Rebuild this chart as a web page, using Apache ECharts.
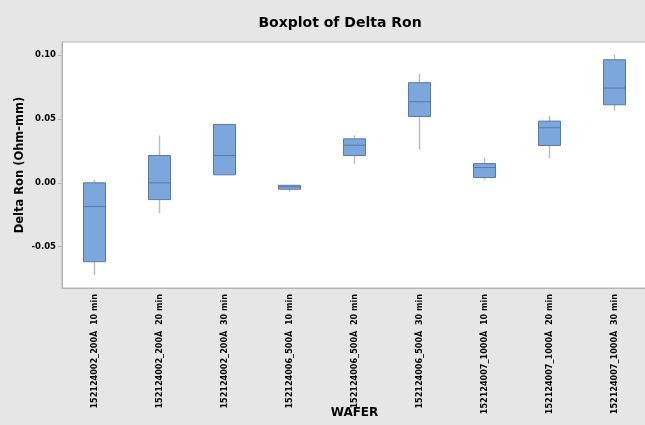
<!DOCTYPE html>
<html>
<head>
<meta charset="utf-8">
<script src="https://cdn.jsdelivr.net/npm/echarts@6/dist/echarts.min.js"></script>
<style>
  html, body { margin: 0; padding: 0; background: #e6e6e6; }
  #chart { width: 645px; height: 425px; }
</style>
</head>
<body>
<div id="chart"></div>
<script>
// wafer groups
var categories = [
    '152124002_200Å  10 min', '152124002_200Å  20 min', '152124002_200Å  30 min',
    '152124006_500Å  10 min', '152124006_500Å  20 min', '152124006_500Å  30 min',
    '152124007_1000Å  10 min', '152124007_1000Å  20 min', '152124007_1000Å  30 min'
];
// box statistics
var whiskerLow = [-0.0722, -0.0238, 0.0063, -0.0068, 0.0149, 0.0261, 0.0024, 0.0193, 0.0565];
var q1 = [-0.0618, -0.0131, 0.0063, -0.0050, 0.0214, 0.0520, 0.0042, 0.0293, 0.0612];
var median = [-0.0186, 0.0000, 0.0214, -0.0030, 0.0295, 0.0636, 0.0120, 0.0432, 0.0743];
var q3 = [0.0000, 0.0214, 0.0458, -0.0019, 0.0345, 0.0785, 0.0151, 0.0484, 0.0965];
var whiskerHigh = [0.0024, 0.0371, 0.0458, -0.0019, 0.0371, 0.0856, 0.0196, 0.0526, 0.1005];

var boxData = categories.map(function (c, i) {
    return [i, whiskerLow[i], q1[i], median[i], q3[i], whiskerHigh[i]];
});

var fontFam = 'DejaVu Sans';
var narrowFam = 'DejaVu Sans Condensed';

var chart = echarts.init(document.getElementById('chart'));
var option = {
    backgroundColor: '#e6e6e6',
    animation: false,
    title: {
        text: 'Boxplot of Delta Ron',
        left: 335,
        top: 11,
        textAlign: 'center',
        textStyle: {
            color: '#000',
            fontFamily: fontFam,
            fontWeight: 'bold',
            fontSize: 14
        }
    },
    grid: {
        show: true,
        left: 62,
        top: 42,
        width: 585,
        height: 246,
        outerBoundsMode: 'none',
        containLabel: false,
        backgroundColor: '#fff',
        borderColor: '#b4b4b4',
        borderWidth: 1
    },
    xAxis: {
        type: 'category',
        data: categories,
        name: 'WAFER',
        nameLocation: 'middle',
        nameGap: 119,
        nameMoveOverlap: false,
        nameTextStyle: {
            color: '#000',
            fontFamily: fontFam,
            fontWeight: 'bold',
            fontSize: 12
        },
        axisLine: { onZero: false, lineStyle: { color: '#b4b4b4' } },
        axisTick: { alignWithLabel: true, length: 4, lineStyle: { color: '#b4b4b4' } },
        axisLabel: {
            rotate: 90,
            interval: 0,
            margin: 6,
            color: '#000',
            fontFamily: narrowFam,
            fontWeight: 'bold',
            fontSize: 9
        },
        splitLine: { show: false }
    },
    yAxis: {
        type: 'value',
        min: -0.0824,
        max: 0.1104,
        splitNumber: 4,
        name: 'Delta Ron (Ohm-mm)',
        nameLocation: 'middle',
        nameGap: 36,
        nameMoveOverlap: false,
        nameTextStyle: {
            color: '#000',
            fontFamily: fontFam,
            fontWeight: 'bold',
            fontSize: 11.5
        },
        axisLine: { show: true, lineStyle: { color: '#b4b4b4' } },
        axisTick: { show: true, length: 4, lineStyle: { color: '#b4b4b4' } },
        axisLabel: {
            margin: 6,
            color: '#000',
            fontFamily: fontFam,
            fontWeight: 'bold',
            fontSize: 8.5,
            showMinLabel: false,
            showMaxLabel: false,
            formatter: function (v) {
                return Math.abs(v * 20 - Math.round(v * 20)) < 1e-6 ? v.toFixed(2) : '';
            }
        },
        splitLine: { show: false }
    },
    series: [{
        name: 'Delta Ron',
        type: 'custom',
        data: boxData,
        encode: { x: 0, y: [1, 2, 3, 4, 5] },
        renderItem: function (params, api) {
            var idx = api.value(0);
            var lo = api.coord([idx, api.value(1)]);
            var b1 = api.coord([idx, api.value(2)]);
            var md = api.coord([idx, api.value(3)]);
            var b3 = api.coord([idx, api.value(4)]);
            var hi = api.coord([idx, api.value(5)]);
            var half = 11;
            var cx = lo[0];
            var whisker = { stroke: '#bdbdbd', lineWidth: 1.5 };
            return {
                type: 'group',
                children: [{
                    type: 'line',
                    shape: { x1: cx, y1: hi[1], x2: cx, y2: b3[1] },
                    style: whisker
                }, {
                    type: 'line',
                    shape: { x1: cx, y1: b1[1], x2: cx, y2: lo[1] },
                    style: whisker
                }, {
                    type: 'rect',
                    shape: { x: cx - half, y: b3[1], width: half * 2, height: Math.max(b1[1] - b3[1], 1) },
                    style: { fill: '#7ba7dc', stroke: '#5b79a6', lineWidth: 1 }
                }, {
                    type: 'line',
                    shape: { x1: cx - half, y1: md[1], x2: cx + half, y2: md[1] },
                    style: { stroke: '#5b79a6', lineWidth: 1 }
                }]
            };
        }
    }]
};
chart.setOption(option);
</script>
</body>
</html>
